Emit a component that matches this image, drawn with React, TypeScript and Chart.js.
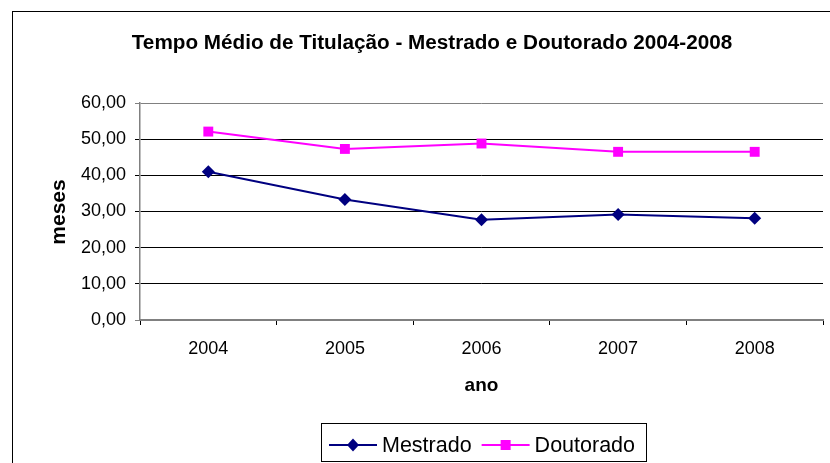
import React, { useEffect, useRef } from 'react';
import { Chart, registerables } from 'chart.js';

Chart.register(...registerables);

const TITLE = 'Tempo Médio de Titulação - Mestrado e Doutorado 2004-2008';
const Y_TITLE = 'meses';
const X_TITLE = 'ano';
const years = ['2004', '2005', '2006', '2007', '2008'];
const mestrado = [41.0, 33.3, 27.7, 29.2, 28.1];
const doutorado = [52.1, 47.3, 48.8, 46.5, 46.5];
const seriesNames = ['Mestrado', 'Doutorado'];
const Y_MIN = 0;
const Y_MAX = 60;
const Y_STEP = 10;

const FONT = '"Liberation Sans", Arial, sans-serif';
const NAVY = '#000080';
const MAGENTA = '#FF00FF';

function drawMarker(ctx: CanvasRenderingContext2D, style: string, x: number, y: number, color: string) {
  ctx.fillStyle = color;
  ctx.beginPath();
  if (style === 'rectRot') {
    ctx.moveTo(x, y - 6.5);
    ctx.lineTo(x + 6, y);
    ctx.lineTo(x, y + 6.5);
    ctx.lineTo(x - 6, y);
    ctx.closePath();
  } else {
    ctx.rect(x - 5, y - 5, 10, 10);
  }
  ctx.fill();
}

const decoPlugin = {
  id: 'deco',
  beforeDraw(chart: any) {
    const ctx = chart.ctx as CanvasRenderingContext2D;
    ctx.save();
    ctx.fillStyle = '#fff';
    ctx.fillRect(0, 0, chart.width, chart.height);
    ctx.restore();
  },
  afterDraw(chart: any) {
    const ctx = chart.ctx as CanvasRenderingContext2D;
    const area = chart.chartArea;
    ctx.save();
    // outer frame
    ctx.strokeStyle = '#000';
    ctx.lineWidth = 1;
    ctx.strokeRect(12.5, 11.5, 840, 480);

    // title
    ctx.fillStyle = '#000';
    ctx.textAlign = 'center';
    ctx.textBaseline = 'alphabetic';
    ctx.font = `bold 20.7px ${FONT}`;
    ctx.fillText(TITLE, 432, 48.5);

    // x title
    ctx.font = `bold 19px ${FONT}`;
    ctx.fillText(X_TITLE, (area.left + area.right) / 2, 391);

    // y title
    ctx.save();
    ctx.translate(65, 212);
    ctx.rotate(-Math.PI / 2);
    ctx.font = `bold 21px ${FONT}`;
    ctx.fillText(Y_TITLE, 0, 0);
    ctx.restore();

    // legend
    ctx.strokeStyle = '#000';
    ctx.lineWidth = 1;
    ctx.strokeRect(321.5, 423.5, 325, 38);
    ctx.font = `21.5px ${FONT}`;
    ctx.textAlign = 'left';
    let x = 329;
    const cy = 445;
    chart.data.datasets.forEach((ds: any) => {
      ctx.strokeStyle = ds.borderColor;
      ctx.lineWidth = 2;
      ctx.beginPath();
      ctx.moveTo(x, cy);
      ctx.lineTo(x + 48, cy);
      ctx.stroke();
      drawMarker(ctx, ds.pointStyle, x + 24, cy, ds.pointBackgroundColor);
      ctx.fillStyle = '#000';
      const tx = x + 53;
      ctx.fillText(ds.label, tx, 452);
      x = tx + ctx.measureText(ds.label).width + 10;
    });
    ctx.restore();
  },
};

export default function App() {
  const ref = useRef<HTMLCanvasElement | null>(null);

  useEffect(() => {
    if (!ref.current) return;
    const chart = new Chart(ref.current, {
      type: 'line',
      data: {
        labels: years,
        datasets: [
          {
            label: seriesNames[0],
            data: mestrado,
            borderColor: NAVY,
            backgroundColor: NAVY,
            pointBackgroundColor: NAVY,
            pointBorderColor: NAVY,
            pointStyle: 'rectRot',
            pointRadius: 6.5,
            pointBorderWidth: 0,
            borderWidth: 2,
            tension: 0,
          },
          {
            label: seriesNames[1],
            data: doutorado,
            borderColor: MAGENTA,
            backgroundColor: MAGENTA,
            pointBackgroundColor: MAGENTA,
            pointBorderColor: MAGENTA,
            pointStyle: 'rect',
            pointRadius: 7,
            pointBorderWidth: 0,
            borderWidth: 2,
            tension: 0,
          },
        ],
      },
      options: {
        responsive: false,
        animation: false,
        events: [],
        layout: { padding: { top: 103, left: 0, right: 0, bottom: 0 } },
        plugins: {
          legend: { display: false },
          title: { display: false },
          tooltip: { enabled: false },
        },
        scales: {
          x: {
            type: 'category',
            offset: true,
            afterFit: (s: any) => {
              s.height = 143;
            },
            grid: {
              display: true,
              drawOnChartArea: false,
              drawTicks: true,
              tickLength: 5,
              offset: true,
              color: '#000',
              lineWidth: 1,
            },
            border: { display: true, color: '#808080', width: 2 },
            ticks: {
              color: '#000',
              font: { family: FONT, size: 18 },
              padding: 13,
              maxRotation: 0,
            },
          },
          y: {
            type: 'linear',
            min: Y_MIN,
            max: Y_MAX,
            afterFit: (s: any) => {
              s.width = 140;
            },
            ticks: {
              stepSize: Y_STEP,
              color: '#000',
              font: { family: FONT, size: 18 },
              padding: 9,
              callback: (v: any) => Number(v).toFixed(2).replace('.', ','),
            },
            grid: {
              display: true,
              drawTicks: true,
              tickLength: 5,
              color: (c: any) => (c.tick && (c.tick.value === Y_MAX || c.tick.value === Y_MIN) ? '#808080' : '#000'),
              lineWidth: 1,
            },
            border: { display: true, color: '#808080', width: 1.5 },
          },
        },
      },
      plugins: [decoPlugin],
    });
    return () => chart.destroy();
  }, []);

  return (
    <div style={{ position: 'fixed', left: 0, top: 0, width: 830, height: 463, background: '#fff' }}>
      <canvas ref={ref} width={830} height={463} style={{ display: 'block' }} />
    </div>
  );
}
